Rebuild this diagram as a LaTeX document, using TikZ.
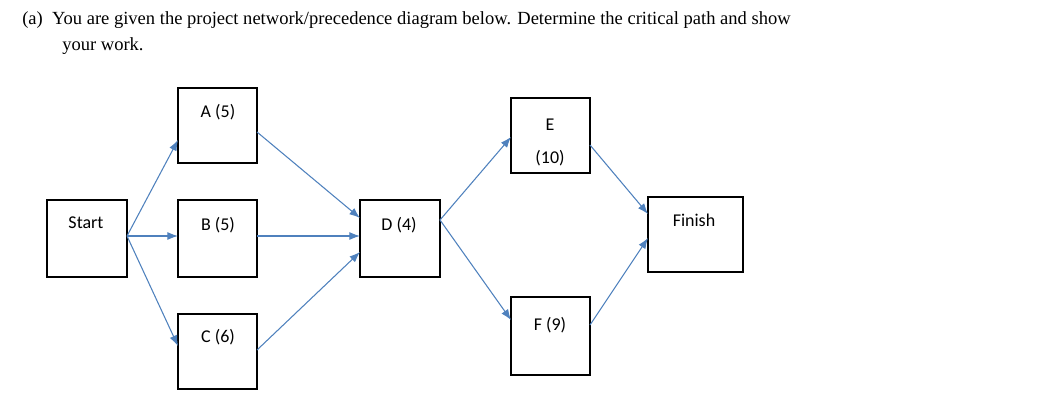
\documentclass[tikz,border=0pt]{standalone}
\usepackage{fontspec}
\usetikzlibrary{arrows.meta}
\setmainfont{Liberation Serif}
\newfontfamily\calfont{Carlito}
\begin{document}
\begin{tikzpicture}[x=0.75pt,y=-0.75pt,
  box/.style={draw,line width=0.9pt,inner sep=0pt},
  lab/.style={font=\calfont\fontsize{13.5}{16}\selectfont,inner sep=0pt},
  arr/.style={draw={rgb,255:red,79;green,129;blue,189},line width=0.8pt,-{Latex[length=8pt,width=6pt]}}]
\useasboundingbox (0,0) rectangle (1062,413);
\node[anchor=west,inner sep=0pt,font=\fontsize{13.9}{16}\selectfont] (t1) at (22,20) {(a)\ \ You are given the project network/precedence diagram below. Determine the critical path and show};
\node[anchor=west,inner sep=0pt,font=\fontsize{13.9}{16}\selectfont] (t2) at (62,46) {your work.};
\draw[box] (47,200) rectangle (127,277); \node[lab] (ls) at (86,223) {Start};
\draw[box] (178,88) rectangle (257,163); \node[lab] (la) at (218,112) {A (5)};
\draw[box] (178,200) rectangle (257,277); \node[lab] (lb) at (218,225) {B (5)};
\draw[box] (178,314) rectangle (257,389); \node[lab] (lc) at (218,337) {C (6)};
\draw[box] (360,200) rectangle (440,277); \node[lab] (ld) at (399,225) {D (4)};
\draw[box] (511,98) rectangle (590,173); \node[lab] (le) at (550,125) {E}; \node[lab] (le2) at (550,158) {(10)};
\draw[box] (511,297) rectangle (590,375); \node[lab] (lf) at (550,325) {F (9)};
\draw[box] (648,197) rectangle (743,272); \node[lab] (lfi) at (694,220) {Finish};
\coordinate (s) at (127,236);
\coordinate (ai) at (178,140); \coordinate (bi) at (178,236); \coordinate (ci) at (178,346);
\coordinate (ao) at (257,132); \coordinate (bo) at (257,236); \coordinate (co) at (257,350);
\coordinate (d1) at (360,218); \coordinate (d2) at (360,236); \coordinate (d3) at (360,252);
\coordinate (dout) at (440,220);
\coordinate (ei) at (511,137); \coordinate (fi) at (511,320);
\coordinate (eo) at (590,145); \coordinate (fo) at (590,325);
\coordinate (n1) at (648,214); \coordinate (n2) at (648,238);
\draw[arr] (s) -- (ai); \draw[arr] (s) -- (bi); \draw[arr] (s) -- (ci);
\draw[arr] (ao) -- (d1); \draw[arr] (bo) -- (d2); \draw[arr] (co) -- (d3);
\draw[arr] (dout) -- (ei); \draw[arr] (dout) -- (fi);
\draw[arr] (eo) -- (n1); \draw[arr] (fo) -- (n2);
\end{tikzpicture}
\end{document}
